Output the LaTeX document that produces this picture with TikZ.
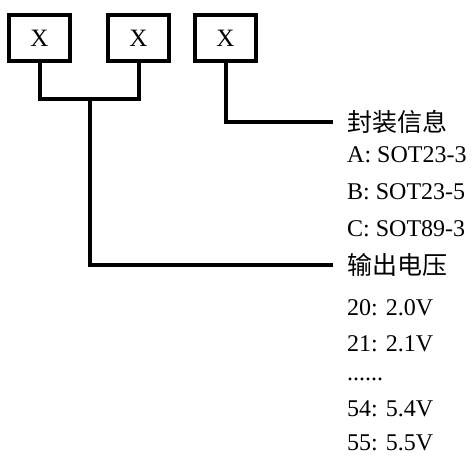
\documentclass[tikz,border=0pt]{standalone}
\usepackage{fontspec}
\setmainfont{Liberation Serif}
\newfontfamily\cjk{Noto Sans CJK SC}
\begin{document}
\begin{tikzpicture}[x=1pt,y=-1pt,
  boxnode/.style={draw,line width=4pt,minimum width=60.5pt,minimum height=46pt,inner sep=0pt,font=\fontsize{25}{25}\selectfont},
  wire/.style={line width=4pt},
  head/.style={anchor=west,inner xsep=14pt,inner ysep=0pt,font=\cjk\fontsize{25}{25}\selectfont},
  item/.style={anchor=base west,inner sep=0pt,text depth=0pt,font=\fontsize{24}{24}\selectfont}]
\useasboundingbox (0,0) rectangle (473,456);
\node[boxnode] (b1) at (39.5,38.3) {X};
\node[boxnode] (b2) at (138.5,38.3) {X};
\node[boxnode] (b3) at (225.5,38.3) {X};
\coordinate (j) at (89.5,99);
\node[head] (pkg) at (333,122) {封装信息};
\node[head] (volt) at (333,265) {输出电压};
\draw[wire] (b1.south) |- (j) -| (b2.south);
\draw[wire] (j) |- (volt.west);
\draw[wire] (b3.south) |- (pkg.west);
\node[item] (a) at (347,162) {A: SOT23-3};
\node[item] (b) at (347,199) {B: SOT23-5};
\node[item] (c) at (347,236) {C: SOT89-3};
\node[item] (v20) at (347,315) {20: 2.0V};
\node[item] (v21) at (347,351) {21: 2.1V};
\node[item] (dots) at (347,380) {......};
\node[item] (v54) at (347,416) {54: 5.4V};
\node[item] (v55) at (347,450) {55: 5.5V};
\end{tikzpicture}
\end{document}
